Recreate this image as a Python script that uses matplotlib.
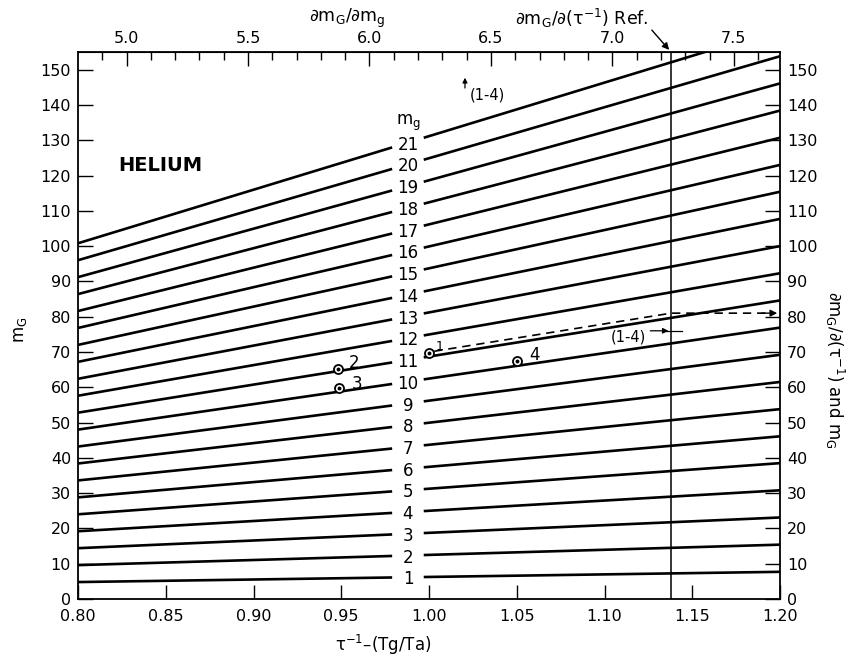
import numpy as np
import matplotlib
matplotlib.use('Agg')
import matplotlib.pyplot as plt
from matplotlib.ticker import MultipleLocator, FixedLocator, FormatStrFormatter

plt.rcParams['font.family'] = ['DejaVu Sans']
plt.rcParams['mathtext.default'] = 'regular'

# m_g curve numbers and m_G read at tau^-1 = 0.80 and 1.20
mg_numbers = list(range(1, 22))
mG_at_080 = [4.8, 9.6, 14.4, 19.2, 24.0, 28.8, 33.6, 38.4, 43.2, 48.0, 52.8,
             57.6, 62.4, 67.2, 72.0, 76.8, 81.6, 86.4, 91.2, 96.0, 100.8]
mG_at_120 = [7.7, 15.4, 23.1, 30.8, 38.5, 46.1, 53.8, 61.5, 69.2, 76.9, 84.6,
             92.3, 100.0, 107.7, 115.4, 123.0, 130.7, 138.4, 146.1, 153.8, 161.5]
tau_ends = [0.80, 1.20]

# top scale dm_G/dm_g at the two ends of the tau axis
top_scale_ends = [4.80, 7.69]
top_major = [5.0, 5.5, 6.0, 6.5, 7.0, 7.5]
top_minor = [4.9, 5.1, 5.2, 5.3, 5.4, 5.6, 5.7, 5.8, 5.9, 6.1, 6.2, 6.3, 6.4,
             6.6, 6.7, 6.8, 6.9, 7.1, 7.2, 7.3, 7.4, 7.6]

# test points
point_labels = ['1', '2', '3', '4']
point_tau = [1.00, 0.948, 0.949, 1.05]
point_mG = [69.6, 65.1, 59.7, 67.4]

# reference line and dashed path from point 1
ref_tau = 1.138
dash_tau = [1.003, 1.138, 1.197]
dash_mG = [70.2, 81.0, 81.0]

fig = plt.figure(figsize=(8.51, 6.59), dpi=100)
ax = fig.add_axes([78/851, 60/659, 702/851, 547/659])
ax.set_xlim(0.80, 1.20)
ax.set_ylim(0, 155)

gap_lo, gap_hi, lab_x = 0.979, 0.997, 0.988
for n, y0, y1 in zip(mg_numbers, mG_at_080, mG_at_120):
    ya = np.interp(gap_lo, tau_ends, [y0, y1])
    yb = np.interp(gap_hi, tau_ends, [y0, y1])
    ax.plot([tau_ends[0], gap_lo], [y0, ya], color='black', lw=1.9,
            solid_capstyle='butt')
    ax.plot([gap_hi, tau_ends[1]], [yb, y1], color='black', lw=1.9,
            solid_capstyle='butt')
    yl = np.interp(lab_x, tau_ends, [y0, y1])
    ax.text(lab_x, yl - 0.6, str(n), ha='center', va='center', fontsize=12)
    if n == mg_numbers[-1]:
        ax.text(lab_x, yl + 5.5, '$m_g$', ha='center', va='center', fontsize=12)

ax.axvline(ref_tau, color='black', lw=1.1)

# points
ax.plot(point_tau, point_mG, 'o', ms=6.5, mfc='white', mec='black', mew=1.3)
ax.plot(point_tau, point_mG, 'o', ms=1.8, color='black')
offs = {'1': (0.004, 2.0, 9), '2': (0.006, 1.8, 12), '3': (0.007, 1.2, 12),
        '4': (0.007, 1.8, 12)}
for lab, t, m in zip(point_labels, point_tau, point_mG):
    dx, dy, fs = offs[lab]
    ax.text(t + dx, m + dy, lab, ha='left', va='center', fontsize=fs)

# dashed path to the right scale
ax.plot(dash_tau, dash_mG, color='black', lw=1.2, dashes=(5, 3.5))
ax.annotate('', xy=(1.2, dash_mG[-1]), xytext=(1.188, dash_mG[-1]),
            arrowprops=dict(arrowstyle='-|>', color='black', lw=1.0,
                            mutation_scale=10))

# (1-4) annotations
ax.text(1.1134, 74.3, '(1-4)', ha='center', va='center', fontsize=10.5)
ax.annotate('', xy=(ref_tau, 76.0), xytext=(1.1245, 76.0),
            arrowprops=dict(arrowstyle='-|>', color='black', lw=0.9,
                            mutation_scale=8))
ax.plot([ref_tau - 0.004, ref_tau + 0.006], [76.0, 76.0], color='black', lw=0.9)
ax.text(1.033, 142.7, '(1-4)', ha='center', va='center', fontsize=10.5)
ax.annotate('', xy=(1.0205, 148.5), xytext=(1.0205, 144.0),
            arrowprops=dict(arrowstyle='-|>', color='black', lw=0.9,
                            mutation_scale=7))

ax.text(0.847, 122.8, 'HELIUM', ha='center', va='center', fontsize=14,
        fontweight='bold')

# axes styling
for s in ax.spines.values():
    s.set_linewidth(1.3)
ax.xaxis.set_major_locator(MultipleLocator(0.05))
ax.xaxis.set_major_formatter(FormatStrFormatter('%.2f'))
ax.yaxis.set_major_locator(MultipleLocator(10))
ax.tick_params(axis='x', direction='in', length=10, width=1.0, labelsize=11.5,
               pad=7)
ax.tick_params(axis='y', direction='in', length=11, width=1.0, labelsize=11.5,
               left=True, right=True, labelleft=True, labelright=True, pad=5)


def to_top(t):
    return top_scale_ends[0] + (np.asarray(t) - tau_ends[0]) * \
        (top_scale_ends[1] - top_scale_ends[0]) / (tau_ends[1] - tau_ends[0])


def from_top(v):
    return tau_ends[0] + (np.asarray(v) - top_scale_ends[0]) * \
        (tau_ends[1] - tau_ends[0]) / (top_scale_ends[1] - top_scale_ends[0])


top = ax.secondary_xaxis('top', functions=(to_top, from_top))
top.xaxis.set_major_locator(FixedLocator(top_major))
top.xaxis.set_minor_locator(FixedLocator(top_minor))
top.xaxis.set_major_formatter(FormatStrFormatter('%.1f'))
top.tick_params(which='major', direction='in', length=10, width=1.0,
                labelsize=11.5, pad=4)
top.tick_params(which='minor', direction='in', length=6, width=1.0)

# labels
fig.text(347/851, 1 - 18/659, r'$\partial m_G/\partial m_g$', ha='center',
         va='center', fontsize=12.5)
fig.text(582/851, 1 - 18/659, r'$\partial m_G/\partial(\tau^{-1})$ Ref.',
         ha='center', va='center', fontsize=12.5)
fig.add_artist(matplotlib.patches.FancyArrowPatch(
    (650/851, 1 - 28/659), (671/851, 1 - 52/659), transform=fig.transFigure,
    arrowstyle='-|>', mutation_scale=10, color='black', lw=1.0))
fig.text(383/851, 1 - 645/659, r'$\tau^{-1}$–(Tg/Ta)', ha='center',
         va='center', fontsize=12)
fig.text(20/851, 1 - 330/659, '$m_G$', ha='center', va='center', fontsize=12,
         rotation=90)
fig.text(835/851, 1 - 370/659, r'$\partial m_G/\partial(\tau^{-1})$ and $m_G$',
         ha='center', va='center', fontsize=12, rotation=-90)

fig.savefig('out.png', dpi=100)
